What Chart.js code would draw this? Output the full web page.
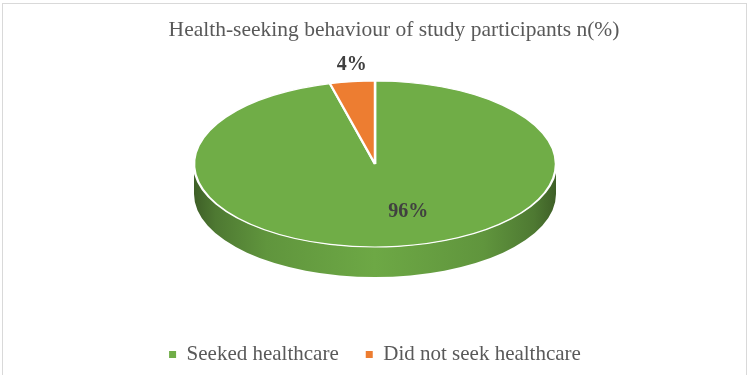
<!DOCTYPE html>
<html>
<head>
<meta charset="utf-8">
<script src="https://cdn.jsdelivr.net/npm/chart.js@4/dist/chart.umd.min.js"></script>
<style>
  body { margin: 0; background: #fff; }
  #wrap { position: relative; width: 750px; height: 375px; }
</style>
</head>
<body>
<div id="wrap"><canvas id="healthPie"></canvas></div>
<script>
const chartTitle = "Health-seeking behaviour of study participants n(%)";
const categories = ["Seeked healthcare", "Did not seek healthcare"];
const shares = [96, 4];
const percentLabels = ["96%", "4%"];
const sliceColors = ["#70AD47", "#ED7D31"];

// darken a hex colour by factor f (0..1)
function shade(hex, f) {
  const n = parseInt(hex.slice(1), 16);
  const r = Math.round(((n >> 16) & 255) * f);
  const g = Math.round(((n >> 8) & 255) * f);
  const b = Math.round((n & 255) * f);
  return `rgb(${r},${g},${b})`;
}

// squash the flat pie into an ellipse and give it a thickness
const pie3d = {
  id: "pie3d",
  beforeDatasetsDraw(chart, args, opts) {
    const ctx = chart.ctx;
    const meta = chart.getDatasetMeta(0);
    const first = meta.data[0];
    const R = first.outerRadius;
    const tx = first.x;
    const ty = chart.chartArea.top + opts.ry;

    // side wall, front half only
    ctx.save();
    meta.data.forEach((arc, i) => {
      const base = sliceColors[i];
      const grad = ctx.createLinearGradient(tx - opts.rx, 0, tx + opts.rx, 0);
      grad.addColorStop(0, shade(base, 0.55));
      grad.addColorStop(0.06, shade(base, 0.7));
      grad.addColorStop(0.2, shade(base, 0.86));
      grad.addColorStop(0.5, shade(base, 0.97));
      grad.addColorStop(0.8, shade(base, 0.86));
      grad.addColorStop(0.94, shade(base, 0.7));
      grad.addColorStop(1, shade(base, 0.55));
      for (let k = -1; k <= 1; k++) {
        const a0 = Math.max(arc.startAngle + 2 * Math.PI * k, 0);
        const a1 = Math.min(arc.endAngle + 2 * Math.PI * k, Math.PI);
        if (a1 <= a0) continue;
        ctx.beginPath();
        ctx.ellipse(tx, ty, opts.rx, opts.ry, 0, a0, a1);
        ctx.ellipse(tx, ty + opts.depth, opts.rx, opts.ry, 0, a1, a0, true);
        ctx.closePath();
        ctx.fillStyle = grad;
        ctx.fill();
      }
    });
    ctx.restore();

    ctx.save();
    ctx.translate(tx, ty);
    ctx.scale(opts.rx / R, opts.ry / R);
    ctx.translate(-first.x, -first.y);
  },
  afterDatasetsDraw(chart, args, opts) {
    const ctx = chart.ctx;
    ctx.restore();
    const meta = chart.getDatasetMeta(0);
    const tx = meta.data[0].x;
    const ty = chart.chartArea.top + opts.ry;
    ctx.save();
    ctx.font = "bold 20px 'Liberation Serif'";
    ctx.fillStyle = "#404040";
    ctx.textAlign = "center";
    ctx.textBaseline = "middle";
    meta.data.forEach((arc, i) => {
      const mid = (arc.startAngle + arc.endAngle) / 2;
      const p = opts.labelPlace[i];
      const x = tx + Math.cos(mid) * opts.rx * p.r + p.dx;
      const y = ty + Math.sin(mid) * opts.ry * p.r;
      ctx.fillText(percentLabels[i], x, y);
    });
    ctx.restore();
  },
  afterDraw(chart) {
    const ctx = chart.ctx;
    ctx.save();
    ctx.strokeStyle = "#d9d9d9";
    ctx.lineWidth = 1;
    ctx.strokeRect(2.5, 3.5, 744, 400);
    ctx.font = "21.5px 'Liberation Serif'";
    ctx.fillStyle = "#595959";
    ctx.textAlign = "center";
    ctx.textBaseline = "middle";
    ctx.fillText(chartTitle, 394, 30);
    ctx.restore();
  }
};

const ctx = document.getElementById("healthPie").getContext("2d");

new Chart(ctx, {
  type: "pie",
  data: {
    labels: categories,
    datasets: [
      {
        data: shares,
        backgroundColor: sliceColors,
        borderColor: "#ffffff",
        borderWidth: 1.6,
        clip: false,
      },
    ],
  },
  plugins: [pie3d],
  options: {
    responsive: true,
    maintainAspectRatio: false,
    animation: false,
    events: [],
    layout: {
      padding: { top: 81, bottom: 0, left: 0, right: 0 },
    },
    plugins: {
      title: { display: false },
      tooltip: { enabled: false },
      legend: {
        position: "bottom",
        labels: {
          boxWidth: 7,
          boxHeight: 7,
          padding: 27,
          color: "#595959",
          font: { family: "'Liberation Serif'", size: 21 },
          generateLabels: (chart) =>
            Chart.overrides.pie.plugins.legend.labels
              .generateLabels(chart)
              .map((item) => ({ ...item, lineWidth: 0 })),
        },
      },
      pie3d: {
        rx: 181,
        ry: 83,
        depth: 30,
        labelPlace: [
          { r: 0.58, dx: 20 },
          { r: 1.2, dx: 4 },
        ],
      },
    },
  },
});
</script>
</body>
</html>
